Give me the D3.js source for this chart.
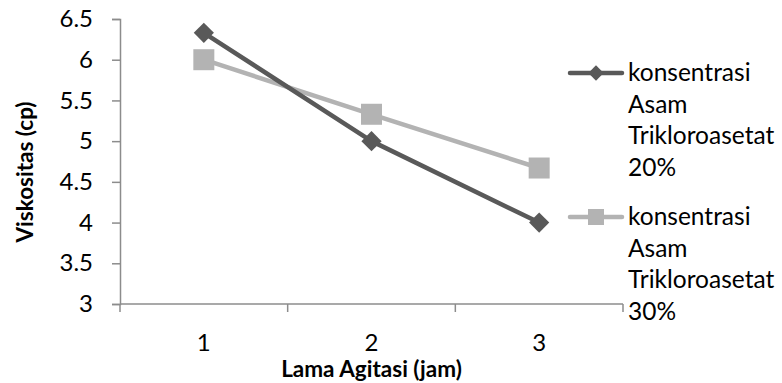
<!DOCTYPE html>
<html>
<head>
<meta charset="utf-8">
<script src="https://cdn.jsdelivr.net/npm/d3@7"></script>
<style>
  body { margin: 0; background: #fff; }
  svg { display: block; }
  text { font-family: Lato, "Open Sans", sans-serif; fill: #000; }
</style>
</head>
<body>
<svg id="chart" width="782" height="383"></svg>
<script>
// data
const categories = ["1", "2", "3"];
const series20 = [6.33, 5.0, 4.0];
const series30 = [6.0, 5.33, 4.67];
const yTicks = [3, 3.5, 4, 4.5, 5, 5.5, 6, 6.5];
const legendNames = [
  ["konsentrasi", "Asam", "Trikloroasetat", "20%"],
  ["konsentrasi", "Asam", "Trikloroasetat", "30%"]
];

const darkCol = "#595959";
const lightCol = "#b3b3b3";
const axisCol = "#8c8c8c";

const svg = d3.select("#chart");

// plot area
const plotLeft = 120, plotRight = 623, plotTop = 19, plotBottom = 304;

const x = d3.scaleBand().domain(categories).range([plotLeft, plotRight]).padding(0);
const y = d3.scaleLinear().domain([3, 6.5]).range([plotBottom, plotTop]);
const xc = d => x(d) + x.bandwidth() / 2;

// y axis
const yAxis = svg.append("g")
    .attr("transform", `translate(${plotLeft},0)`)
    .call(d3.axisLeft(y).tickValues(yTicks).tickSize(8).tickPadding(19)
        .tickFormat(d => String(d)));
yAxis.select(".domain").attr("stroke", axisCol).attr("stroke-width", 1.5);
yAxis.selectAll(".tick line").attr("stroke", axisCol).attr("stroke-width", 1.5);
yAxis.selectAll(".tick text")
    .attr("font-size", 24)
    .style("font-family", "Lato, sans-serif")
    .attr("fill", "#000");

// x axis: line with ticks on band edges, labels in band centers
const xAxisG = svg.append("g");
xAxisG.append("line")
    .attr("x1", plotLeft).attr("x2", plotRight)
    .attr("y1", plotBottom).attr("y2", plotBottom)
    .attr("stroke", axisCol).attr("stroke-width", 1.5);
const edges = categories.map(c => x(c)).concat([plotRight]);
xAxisG.selectAll("line.tk").data(edges).join("line")
    .attr("class", "tk")
    .attr("x1", d => d).attr("x2", d => d)
    .attr("y1", plotBottom).attr("y2", plotBottom + 8)
    .attr("stroke", axisCol).attr("stroke-width", 1.5);
xAxisG.selectAll("text").data(categories).join("text")
    .attr("x", d => xc(d))
    .attr("y", 351)
    .attr("text-anchor", "middle")
    .attr("font-size", 24)
    .text(d => d);

// axis titles
svg.append("text")
    .attr("x", xc("2"))
    .attr("y", 377)
    .attr("text-anchor", "middle")
    .attr("font-size", 22.5)
    .attr("font-weight", "bold")
    .text("Lama Agitasi (jam)");

svg.append("text")
    .attr("transform", "translate(33,172) rotate(-90)")
    .attr("text-anchor", "middle")
    .attr("font-size", 22.5)
    .attr("font-weight", "bold")
    .text("Viskositas (cp)");

// lines + markers
const line = d3.line().x((d, i) => xc(categories[i])).y(d => y(d));

const diamond = d3.symbol().type(d3.symbolDiamond2).size(260);

function drawSeries(values, color, shape) {
  svg.append("path")
      .datum(values)
      .attr("d", line)
      .attr("fill", "none")
      .attr("stroke", color)
      .attr("stroke-width", 4.5)
      .attr("stroke-linejoin", "round");
  const g = svg.append("g");
  values.forEach((v, i) => {
    const cx = xc(categories[i]), cy = y(v);
    if (shape === "diamond") {
      g.append("path")
          .attr("transform", `translate(${cx},${cy})`)
          .attr("d", diamond())
          .attr("fill", color);
    } else {
      g.append("rect")
          .attr("x", cx - 10.5).attr("y", cy - 10.5)
          .attr("width", 21).attr("height", 21)
          .attr("fill", color);
    }
  });
}

drawSeries(series30, lightCol, "square");
drawSeries(series20, darkCol, "diamond");

// legend
const legendY = [73, 217];
const legendColors = [darkCol, lightCol];
const legendShapes = ["diamond", "square"];
legendNames.forEach((lines, k) => {
  const ly = legendY[k];
  const g = svg.append("g");
  g.append("line")
      .attr("x1", 570).attr("x2", 622)
      .attr("y1", ly).attr("y2", ly)
      .attr("stroke", legendColors[k])
      .attr("stroke-width", 4.5)
      .attr("stroke-linecap", "round");
  if (legendShapes[k] === "diamond") {
    g.append("path")
        .attr("transform", `translate(596,${ly})`)
        .attr("d", d3.symbol().type(d3.symbolDiamond2).size(150)())
        .attr("fill", legendColors[k]);
  } else {
    g.append("rect")
        .attr("x", 588).attr("y", ly - 8)
        .attr("width", 16).attr("height", 16)
        .attr("fill", legendColors[k]);
  }
  lines.forEach((t, j) => {
    g.append("text")
        .attr("x", 628)
        .attr("y", ly + 8 + j * 31.7)
        .attr("font-size", 24.5)
        .text(t);
  });
});
</script>
</body>
</html>
